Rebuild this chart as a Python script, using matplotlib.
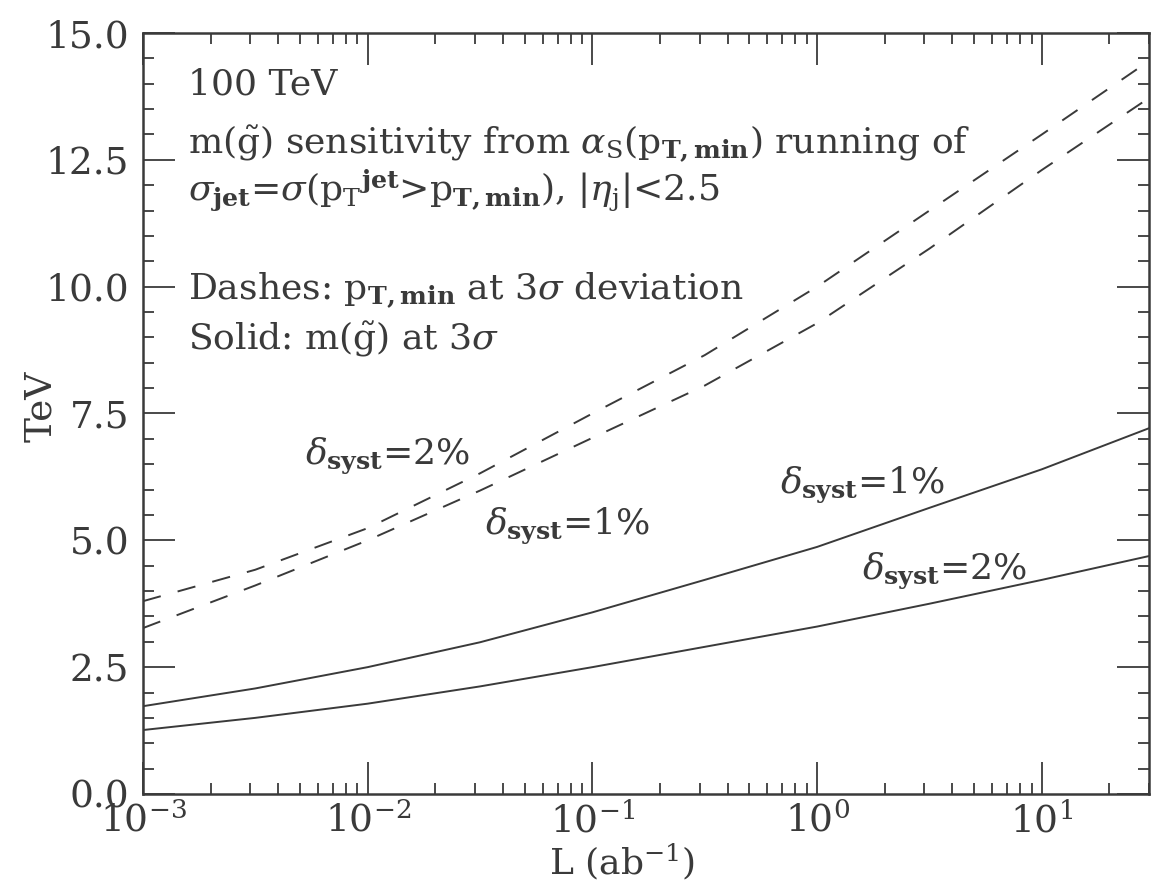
import matplotlib
matplotlib.use("Agg")
import matplotlib.pyplot as plt
from matplotlib.ticker import MultipleLocator, FormatStrFormatter, LogLocator, NullFormatter

plt.rcParams['font.family'] = ['DejaVu Serif']
plt.rcParams['mathtext.fontset'] = 'dejavuserif'

# luminosity in ab^-1 (half-decade points)
lumi = [1e-3, 3.16e-3, 1e-2, 3.16e-2, 1e-1, 3.16e-1, 1.0, 3.16, 10.0, 30.0]

# dashed: p_T,min at 3 sigma deviation (TeV)
ptmin_2pct = [3.80, 4.42, 5.24, 6.32, 7.50, 8.65, 10.0, 11.5, 13.0, 14.45]
ptmin_1pct = [3.27, 4.11, 5.00, 5.98, 7.02, 8.05, 9.28, 10.75, 12.3, 13.72]

# solid: gluino mass at 3 sigma (TeV)
mglu_1pct = [1.73, 2.08, 2.50, 2.99, 3.58, 4.22, 4.87, 5.64, 6.40, 7.21]
mglu_2pct = [1.26, 1.50, 1.78, 2.12, 2.50, 2.90, 3.30, 3.75, 4.22, 4.69]

ink = '#3a3a3a'

fig = plt.figure(figsize=(11.51, 8.88), dpi=100)
ax = fig.add_axes([0.1242, 0.1059, 0.8741, 0.8569])

ax.plot(lumi, ptmin_2pct, color=ink, lw=1.4, dashes=(9.5, 9))
ax.plot(lumi, ptmin_1pct, color=ink, lw=1.4, dashes=(9.5, 9))
ax.plot(lumi, mglu_1pct, color=ink, lw=1.4)
ax.plot(lumi, mglu_2pct, color=ink, lw=1.4)

ax.set_xscale('log')
ax.set_xlim(1e-3, 30)
ax.set_ylim(0, 15)

ax.yaxis.set_major_locator(MultipleLocator(2.5))
ax.yaxis.set_minor_locator(MultipleLocator(0.5))
ax.yaxis.set_major_formatter(FormatStrFormatter('%.1f'))
ax.xaxis.set_major_locator(LogLocator(base=10, numticks=10))
ax.xaxis.set_minor_locator(LogLocator(base=10, subs=range(2, 10), numticks=20))
ax.xaxis.set_minor_formatter(NullFormatter())

ax.tick_params(which='both', direction='in', top=True, right=True, color=ink,
               labelcolor=ink, width=1.3)
ax.tick_params(which='major', length=23, labelsize=27)
ax.tick_params(which='minor', length=8)
ax.tick_params(axis='y', which='major', pad=10)
ax.tick_params(axis='x', which='major', pad=6)
for sp in ax.spines.values():
    sp.set_color(ink)
    sp.set_linewidth(1.8)

ax.set_ylabel('TeV', fontsize=27, color=ink)
ax.set_xlabel(r'L (ab$^{-1}$)', fontsize=26, color=ink)
ax.yaxis.set_label_coords(-0.083, 0.51)
ax.xaxis.set_label_coords(0.476, -0.062)

fs = 26
tx = 0.0447
ax.text(tx, 0.932, '100 TeV', transform=ax.transAxes, fontsize=fs, color=ink, va='center')
ax.text(tx, 0.853, r'm($\tilde{\rm g}$) sensitivity from $\alpha_{\rm S}$(p$_{\mathbf{T,min}}$) running of',
        transform=ax.transAxes, fontsize=fs, color=ink, va='center')
ax.text(tx, 0.794, r'$\sigma_{\mathbf{jet}}$=$\sigma$(p$_{\rm T}$$^{\mathbf{jet}}$>p$_{\mathbf{T,min}}$), |$\eta_{\rm j}$|<2.5',
        transform=ax.transAxes, fontsize=fs, color=ink, va='center')
ax.text(tx, 0.662, r'Dashes: p$_{\mathbf{T,min}}$ at 3$\sigma$ deviation',
        transform=ax.transAxes, fontsize=fs, color=ink, va='center')
ax.text(tx, 0.597, r'Solid: m($\tilde{\rm g}$) at 3$\sigma$',
        transform=ax.transAxes, fontsize=fs, color=ink, va='center')

lab2 = r'$\delta_{\mathbf{syst}}$=2%'
lab1 = r'$\delta_{\mathbf{syst}}$=1%'
ax.text(0.161, 0.445, lab2, transform=ax.transAxes, fontsize=fs, color=ink, va='center')
ax.text(0.340, 0.353, lab1, transform=ax.transAxes, fontsize=fs, color=ink, va='center')
ax.text(0.633, 0.406, lab1, transform=ax.transAxes, fontsize=fs, color=ink, va='center')
ax.text(0.715, 0.294, lab2, transform=ax.transAxes, fontsize=fs, color=ink, va='center')

fig.savefig('out.png', dpi=100)
